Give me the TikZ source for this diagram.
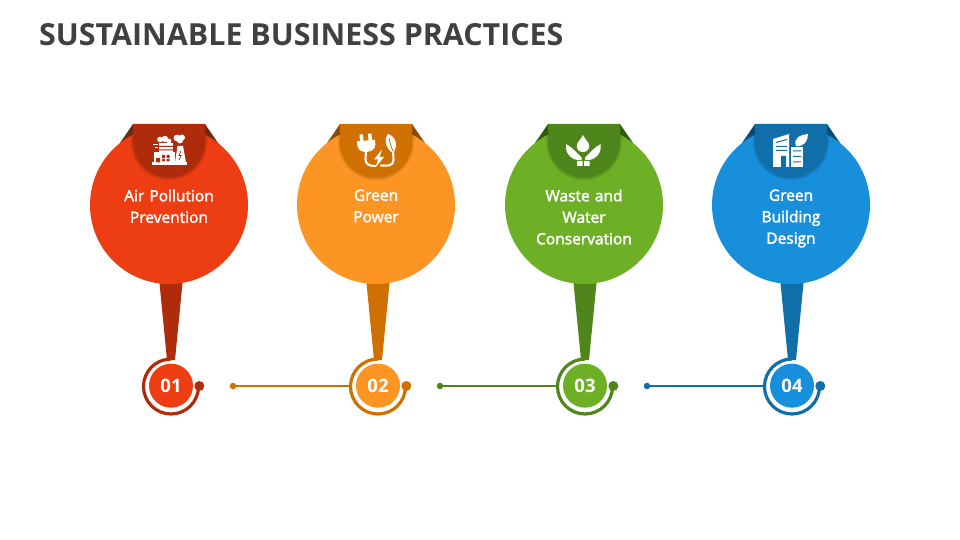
\documentclass[tikz,border=0pt]{standalone}
\usepackage{fontspec}
\setmainfont{Open Sans}
\newfontfamily\labelfont[FakeBold=2.2]{Open Sans}
\newfontfamily\headfont{Open Sans}
\definecolor{cA}{HTML}{EC3D13}\definecolor{dA}{HTML}{AE2B0C}\definecolor{tA}{HTML}{6E2A10}
\definecolor{cB}{HTML}{FC9523}\definecolor{dB}{HTML}{D07000}\definecolor{tB}{HTML}{8A4D08}
\definecolor{cC}{HTML}{6DB025}\definecolor{dC}{HTML}{4F861B}\definecolor{tC}{HTML}{2F5A10}
\definecolor{cD}{HTML}{178FDB}\definecolor{dD}{HTML}{106FA8}\definecolor{tD}{HTML}{0B4A76}
\definecolor{titlegray}{HTML}{404040}
\tikzset{
  disc/.style={circle,fill=#1,minimum size=158pt,inner sep=0pt},
  numdisc/.style={circle,fill=#1,minimum size=44pt,inner sep=0pt,text=white,font=\headfont\bfseries\fontsize{18.5}{18.5}\selectfont},
  ringbase/.style={circle,minimum size=57pt,inner sep=0pt},
  enddot/.style={circle,fill=#1,minimum size=10pt,inner sep=0pt},
  startdot/.style={circle,fill=#1,minimum size=6.5pt,inner sep=0pt},
  caption/.style={anchor=north,align=center,text=white,text width=150pt,font=\labelfont\fontsize{15.5}{21.5}\selectfont},
  icon/.style={fill=white,draw=none},
  iconline/.style={draw=white,line width=2.1pt,line cap=round,fill=none}
}
\begin{document}
\begin{tikzpicture}[x=1pt,y=-1pt]
\useasboundingbox (0,0) rectangle (960,540);
\fill[white] (0,0) rectangle (960,540);
\node[anchor=west,text=titlegray,inner sep=0pt,font=\headfont\bfseries\fontsize{30.4}{30.4}\selectfont] (title) at (39,35) {SUSTAINABLE BUSINESS PRACTICES};
\foreach \i/\cx/\rx/\col/\drk/\tri/\num in {1/169/171/cA/dA/tA/01,2/376/378/cB/dB/tB/02,3/584/585/cC/dC/tC/03,4/791/792/cD/dD/tD/04}{
  % pointer
  \fill[\drk] (\rx-12,278) -- (\rx+12,278) -- (\rx+4,360) -- (\rx-4,360) -- cycle;
  % folds
  \fill[\tri] (\cx-36,124) -- (\cx-49,143) -- (\cx-36,143) -- cycle;
  \fill[\tri] (\cx+36,124) -- (\cx+49,143) -- (\cx+36,143) -- cycle;
  \node[disc=\col] (disc\i) at (\cx,205) {};
  % soft shadow of the cap
  \begin{scope}
    \clip (\cx,205) circle[radius=79];
    \foreach \s in {1,2,3,4,5}{
      \fill[black,opacity=0.03] (\cx-36-\s*0.5,124) -- (\cx+36+\s*0.5,124) -- (\cx+36+\s*0.5,142) arc[start angle=0,end angle=180,radius=36+\s*0.5] -- cycle;
    }
  \end{scope}
  \fill[\drk] (\cx-36,124) -- (\cx+36,124) -- (\cx+36,141.5) arc[start angle=0,end angle=180,radius=36] -- cycle;
  % ring
  \node[ringbase] (ring\i) at (\rx,386) {};
  \draw[\drk,line width=3.2pt] (\rx,359) arc[start angle=-90,end angle=-360,radius=27.5];
  \node[enddot=\drk] (end\i) at (\rx+28.3,386) {};
  \node[numdisc=\col] (num\i) at (\rx,385.7) {\num};
}
\node[startdot=dB] (start2) at (233,386) {};
\node[startdot=dC] (start3) at (440,386) {};
\node[startdot=dD] (start4) at (647,386) {};
\draw[dB,line width=2pt] (start2) -- (ring2);
\draw[dC,line width=2pt] (start3) -- (ring3);
\draw[dD,line width=2pt] (start4) -- (ring4);
% captions
\node[caption] (capA) at (169,186) {Air Pollution\\Prevention};
\node[caption] (capB) at (376,186) {Green\\Power};
\node[caption] (capC) at (584,186) {Waste and\\Water\\Conservation};
\node[caption] (capD) at (791,186) {Green\\Building\\Design};
% ---- icon 1: power plant
\fill[icon] (152,162.5) rectangle (187,165.5);
\fill[icon] (154,152) rectangle (175,162.5);
\fill[icon] (175,162.5) -- (177.5,146) -- (183,146) -- (186,162.5) -- cycle;
\fill[icon] (159,143.5) rectangle (173,152);
\fill[dA] (159,146) rectangle (173,147) (159,149.3) rectangle (173,150.3);
\fill[icon] (160,139.5) circle[radius=2.8] (165,139) circle[radius=3.2] (169,141) circle[radius=2.4];
\fill[icon] (177,138) circle[radius=3.4] (182,137.5) circle[radius=3] (180,140.5) circle[radius=3];
\draw[white,line width=0.9pt] (153,144.5) -- (158,144.5) (155,147.5) -- (158,147.5);
\fill[dA] (156,158) rectangle (160,162.5) (162,155) rectangle (165,158) (166.5,155) rectangle (169.5,158) (162,159) rectangle (165,161.5) (166.5,159) rectangle (169.5,161.5);
\draw[dA,line width=0.7pt,line join=miter] (181,151) -- (178.8,155.5) -- (181.2,155.5) -- (179,160);
% ---- icon 2: plug and leaf
\begin{scope}[rotate around={5:(366,146)}]
\fill[icon] (360.5,134) rectangle (364,142) (369,134) rectangle (372.5,142);
\fill[icon] (357.5,140.5) -- (375.5,140.5) -- (375.5,145) .. controls (375.5,149.5) and (371,152) .. (366.5,152) .. controls (362,152) and (357.5,149.5) .. (357.5,145) -- cycle;
\end{scope}
\draw[iconline] (366,151) -- (365.5,159) .. controls (365.5,164) and (369,166) .. (375,166);
\fill[icon] (382,149.5) -- (374,159.5) -- (378,159.5) -- (375.5,167.5) -- (384,157) -- (379.5,157) -- cycle;
\draw[iconline] (381,165.5) .. controls (388,166) and (393.5,166) .. (393.5,160) -- (393,150);
\fill[icon] (388,134) .. controls (397,137) and (398,147) .. (393,153) .. controls (386,149) and (383.5,140) .. (388,134) -- cycle;
\draw[dB,line width=0.8pt] (393,151) .. controls (391,147) and (390,143) .. (389,138);
% ---- icon 3: drop and hands
\fill[icon] (583,135) .. controls (585,139.5) and (589.2,142) .. (589.2,146) .. controls (589.2,149.8) and (586.5,152) .. (583,152) .. controls (579.5,152) and (576.8,149.8) .. (576.8,146) .. controls (576.8,142) and (581,139.5) .. cycle;
\fill[icon] (566,144) .. controls (569,146.5) and (572,147) .. (574,150) -- (581.5,157.5) -- (581.5,160) -- (577,160) .. controls (572,159) and (567,155) .. (566,149) -- cycle;
\fill[icon] (600.7,144) .. controls (597.7,146.5) and (594.7,147) .. (592.7,150) -- (585.2,157.5) -- (585.2,160) -- (589.7,160) .. controls (594.7,159) and (599.7,155) .. (600.7,149) -- cycle;
\fill[icon] (577,161) rectangle (582.7,166) (584,161) rectangle (589.7,166);
% ---- icon 4: green buildings
\fill[icon] (773,139) -- (789,134) -- (789,167) -- (773,167) -- cycle;
\fill[dD] (776,142) -- (787,139) -- (787,140) -- (776,143) -- cycle (776,146) rectangle (787,147) (776,150) rectangle (787,151) (781,156) rectangle (786,167);
\fill[icon] (791,147) rectangle (803,167);
\fill[dD] (793,150.5) rectangle (801,151.5) (793,156) rectangle (801,157) (793,161.5) rectangle (801,162.5);
\fill[icon] (796,146) .. controls (793,138) and (800,135) .. (808,134) .. controls (808,141) and (804,147) .. (796,146) -- cycle;
\end{tikzpicture}
\end{document}
